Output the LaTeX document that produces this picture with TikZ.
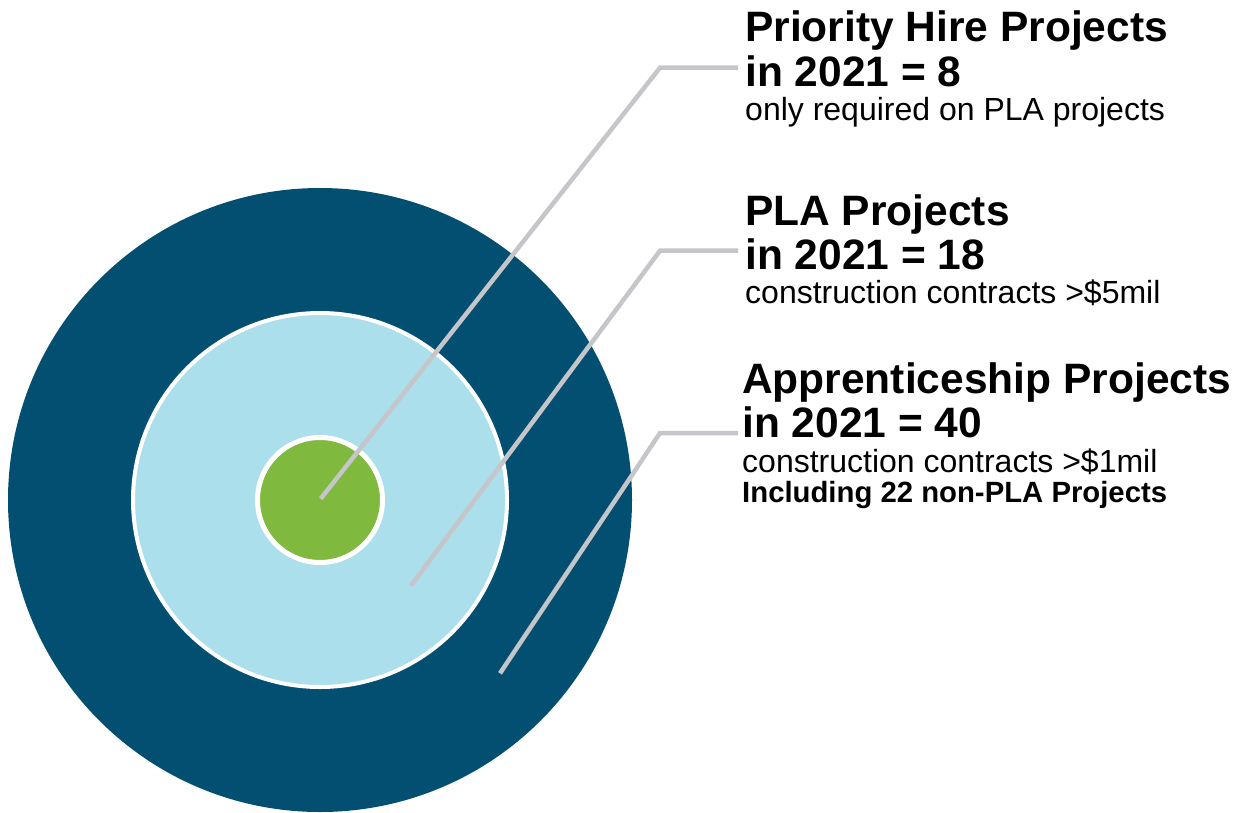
\documentclass[tikz,border=0pt]{standalone}
\usepackage{fontspec}
\setmainfont{Liberation Sans}
\definecolor{outerblue}{HTML}{024F71}
\definecolor{midblue}{HTML}{ABDFEC}
\definecolor{coregreen}{HTML}{7FB93E}
\definecolor{leadergray}{HTML}{C4C6C9}
\tikzset{
  leader/.style={draw=leadergray, line width=4.5pt},
  head/.style={anchor=base west, inner sep=0pt, font=\fontsize{42.5}{48}\selectfont\bfseries},
  sub/.style={anchor=base west, inner sep=0pt, font=\fontsize{32}{36}\selectfont},
  subbold/.style={anchor=base west, inner sep=0pt, font=\fontsize{29.3}{34}\selectfont\bfseries}
}
\begin{document}
\begin{tikzpicture}[x=1pt,y=-1pt]
    \useasboundingbox (0,0) rectangle (1247,812);
    \coordinate (ctr) at (320,500);
    \fill[outerblue] (ctr) circle (312pt);
    \draw[white, line width=4pt, fill=midblue] (ctr) circle (187pt);
    \draw[white, line width=5pt, fill=coregreen] (ctr) circle (62.5pt);

    \coordinate (e1) at (320.7,498.7);
    \coordinate (b1) at (660,67.7);
    \coordinate (f1) at (738,67.7);
    \draw[leader] (e1) -- (b1) -- (f1);

    \coordinate (e2) at (410.7,586);
    \coordinate (b2) at (660,250.7);
    \coordinate (f2) at (738,250.7);
    \draw[leader] (e2) -- (b2) -- (f2);

    \coordinate (e3) at (500,673.3);
    \coordinate (b3) at (660,433);
    \coordinate (f3) at (738,433);
    \draw[leader] (e3) -- (b3) -- (f3);

    \path (745,41) node[head] (prio) {Priority Hire Projects};
    \path (745,86) node[head] (prionum) {in 2021 = 8};
    \path (745,120) node[sub] (prionote) {only required on PLA projects};

    \path (745,225) node[head] (pla) {PLA Projects};
    \path (745,269) node[head] (planum) {in 2021 = 18};
    \path (745,303) node[sub] (planote) {construction contracts >\$5mil};

    \path (742,393) node[head] (appr) {Apprenticeship Projects};
    \path (742,437) node[head] (apprnum) {in 2021 = 40};
    \path (742,472) node[sub] (apprnote) {construction contracts >\$1mil};
    \path (742,502) node[subbold] (apprextra) {Including 22 non-PLA Projects};
  \end{tikzpicture}
\end{document}
